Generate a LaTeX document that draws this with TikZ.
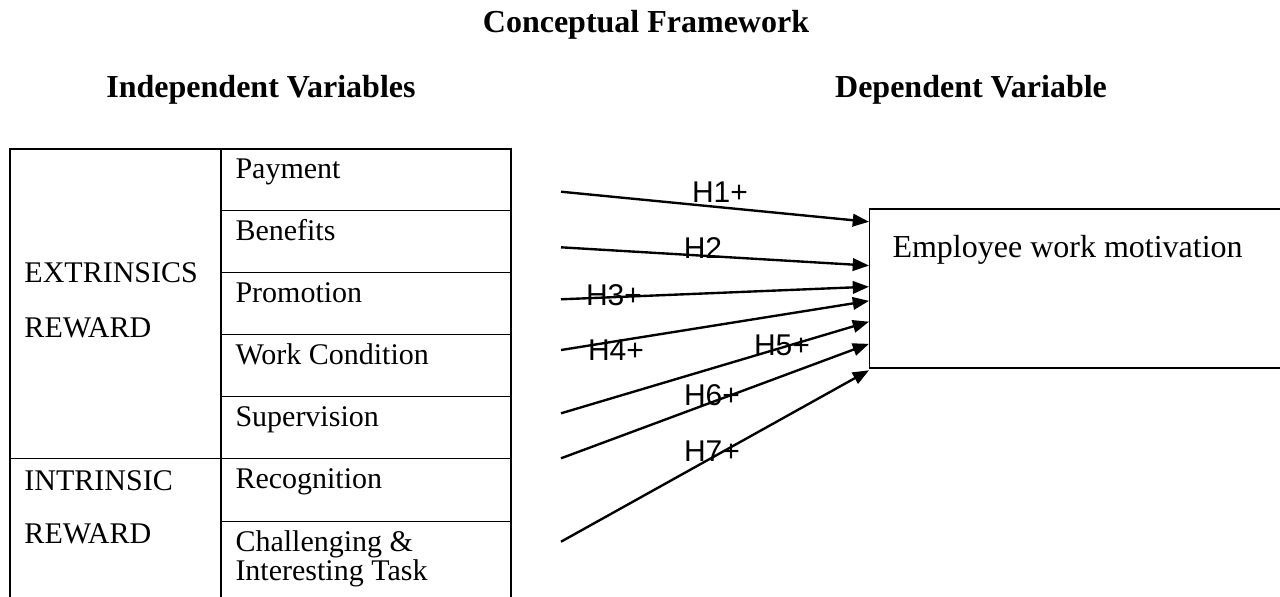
\documentclass[tikz,border=0pt]{standalone}
\usepackage{fontspec}
\setmainfont{Liberation Serif}
\newfontfamily\hypfont{Liberation Sans}
\usetikzlibrary{calc}
\usetikzlibrary{arrows.meta}
\usetikzlibrary{positioning}

\begin{document}
\begin{tikzpicture}[x=0.4pt,y=-0.4pt,
    every node/.style={inner sep=0pt, font=\fontsize{12}{14}\selectfont},
    heading/.style={anchor=base, font=\fontsize{12.8}{15}\selectfont\bfseries},
    cell/.style={anchor=base west},
    hyp/.style={font=\fontsize{12}{14}\selectfont\hypfont},
    grid/.style={line width=0.55pt},
    link/.style={line width=0.95pt, -{Triangle[length=6.5pt,width=5pt]}}
  ]
  \useasboundingbox (0,0) rectangle (1280,596);
  \clip (0,0) rectangle (1280,596);

  % titles
  \node[heading] (ttl) at (646,32) {Conceptual Framework};
  \node[heading] (indep) at (261,97) {Independent Variables};
  \node[heading] (dep) at (971,97) {Dependent Variable};

  % table of rewards
  \draw[grid] (10,149) rectangle (511,640);
  \draw[grid] (221,149) -- (221,640);
  \foreach \y in {210.7,272.7,334.7,396.7,521.7}
    \draw[grid] (221,\y) -- (511,\y);
  \draw[grid] (10,458.3) -- (511,458.3);

  \node[cell] (ext1) at (24,282) {EXTRINSICS};
  \node[cell] (ext2) at (24,337) {REWARD};
  \node[cell] (int1) at (24,490) {INTRINSIC};
  \node[cell] (int2) at (24,543) {REWARD};

  \node[cell] (pay) at (235,178.5) {Payment};
  \node[cell] (ben) at (235,240.3) {Benefits};
  \node[cell] (pro) at (235,302.3) {Promotion};
  \node[cell] (wcon) at (235,364.3) {Work Condition};
  \node[cell] (sup) at (235,426.3) {Supervision};
  \node[cell] (rec) at (235,488) {Recognition};
  \node[cell] (chal) at (235,551.5) {Challenging \&};
  \node[cell] (task) at (235,580) {Interesting Task};

  % dependent variable
  \node[draw, line width=0.55pt, anchor=north west, minimum width=190pt,
    minimum height=63.6pt] (emp) at (869,208.3) {};
  \node[cell, font=\fontsize{12.8}{15}\selectfont] (emptext) at (892,257)
    {Employee work motivation};

  % arrow ends
  \coordinate (s1) at (561,191.7);
  \coordinate (s2) at (561,247.3);
  \coordinate (s3) at (561,299.3);
  \coordinate (s4) at (561,350);
  \coordinate (s5) at (561,413.3);
  \coordinate (s6) at (561,458.3);
  \coordinate (s7) at (561,541.7);

  \coordinate (e1) at ($(emp.north west)!0.084!(emp.south west)$);
  \coordinate (e2) at ($(emp.north west)!0.357!(emp.south west)$);
  \coordinate (e3) at ($(emp.north west)!0.489!(emp.south west)$);
  \coordinate (e4) at ($(emp.north west)!0.577!(emp.south west)$);
  \coordinate (e5) at ($(emp.north west)!0.707!(emp.south west)$);
  \coordinate (e6) at ($(emp.north west)!0.845!(emp.south west)$);
  \coordinate (e7) at ($(emp.north west)!1.01!(emp.south west)$);

  \foreach \i in {1,...,7}
    \draw[link] (s\i) -- (e\i);

  \node[hyp] (h1) at (720,192.3) {H1+};
  \node[hyp] (h2) at (703,248) {H2};
  \node[hyp] (h3) at (614,295) {H3+};
  \node[hyp] (h4) at (616,350) {H4+};
  \node[hyp] (h5) at (782,345) {H5+};
  \node[hyp] (h6) at (712,395) {H6+};
  \node[hyp] (h7) at (712,451) {H7+};
\end{tikzpicture}
\end{document}
